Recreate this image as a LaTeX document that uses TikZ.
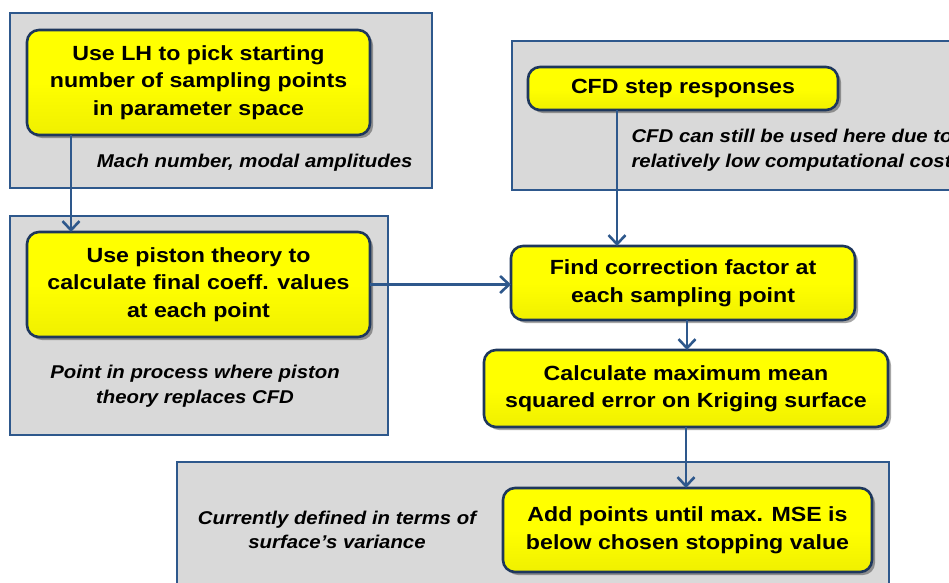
\documentclass[tikz,border=0pt]{standalone}
\usepackage{fontspec}
\setmainfont{Liberation Sans}
\newfontfamily\boxfont[FakeStretch=1.13]{Liberation Sans}
\newfontfamily\notefont[FakeStretch=1.1]{Liberation Sans}
\usetikzlibrary{positioning}
\usetikzlibrary{shadows}
\usetikzlibrary{arrows.meta}
\definecolor{navyline}{RGB}{30,55,92}
\definecolor{linkblue}{RGB}{46,88,140}
\definecolor{panelgray}{RGB}{217,217,217}
\definecolor{stepyellow}{RGB}{255,255,0}

\tikzset{
  panel/.style={draw=linkblue, fill=panelgray, line width=1.8pt, inner sep=0pt, outer sep=0pt},
  stepbox/.style={draw=navyline, line width=2.6pt, rounded corners=12pt,
    top color=stepyellow, bottom color=stepyellow!94!black, middle color=stepyellow,
    drop shadow={shadow xshift=3pt, shadow yshift=-3pt, fill=black, opacity=0.35},
    align=center, inner sep=0pt, outer sep=0pt,
    font=\boxfont\bfseries\fontsize{20.5}{27.5}\selectfont},
  note/.style={align=center, font=\notefont\bfseries\itshape\fontsize{18.5}{24.5}\selectfont},
  link/.style={draw=linkblue, line width=2.6pt, -{Straight Barb[length=9pt,width=17pt]}}
}

\begin{document}
\begin{tikzpicture}[x=1pt,y=-1pt]
% slide frame
\useasboundingbox (0,0) rectangle (949,582);
\clip (0,0) rectangle (949,582);

% grey panels behind the steps
\node[panel, minimum width=422pt, minimum height=175pt] (lhpanel) at (221,100.5) {};
\node[panel, minimum width=448pt, minimum height=149pt] (cfdpanel) at (736,115.5) {};
\node[panel, minimum width=378pt, minimum height=219pt] (pistonpanel) at (199,325.5) {};
\node[panel, minimum width=712pt, minimum height=138pt] (msepanel) at (533,531) {};

% process steps
\node[stepbox, minimum width=343pt, minimum height=105pt] (lhpick) at (198.5,82.5)
  {Use LH to pick starting\\number of sampling points\\in parameter space};
\node[stepbox, minimum width=310pt, minimum height=43pt] (cfdstep) at (683,88.5)
  {CFD step responses};
\node[stepbox, minimum width=343pt, minimum height=105pt] (piston) at (198.5,284.5)
  {Use piston theory to\\calculate final coeff. values\\at each point};
\node[stepbox, minimum width=344pt, minimum height=74pt] (correction) at (683,283)
  {Find correction factor at\\each sampling point};
\node[stepbox, minimum width=404pt, minimum height=77pt] (kriging) at (686,388.5)
  {Calculate maximum mean\\squared error on Kriging surface};
\node[stepbox, minimum width=369pt, minimum height=84pt] (addpoints) at (687.5,530)
  {Add points until max. MSE is\\below chosen stopping value};

% notes in the panels
\node[note, anchor=east] (machnote) at (416,163) {Mach number, modal amplitudes};
\node[note, anchor=west, align=left] (cfdnote) at (628,150)
  {CFD can still be used here due to\\relatively low computational cost};
\node[note] (pistonnote) at (195,386) {Point in process where piston\\theory replaces CFD};
\node[note] (msenote) at (337,530) {Currently defined in terms of\\surface’s variance};

% arrows
\draw[link] ([xshift=-127.5pt]lhpick.south) -- ([xshift=-127.5pt]piston.north);
\draw[link] ([xshift=-66pt]cfdstep.south) -- ([xshift=-66pt]correction.north);
\draw[link] (piston.east) -- (piston.east -| correction.west);
\draw[link] ([xshift=4pt]correction.south) -- ([xshift=4pt]correction.south |- kriging.north);
\draw[link] (kriging.south) -- (kriging.south |- addpoints.north);

\end{tikzpicture}
\end{document}
